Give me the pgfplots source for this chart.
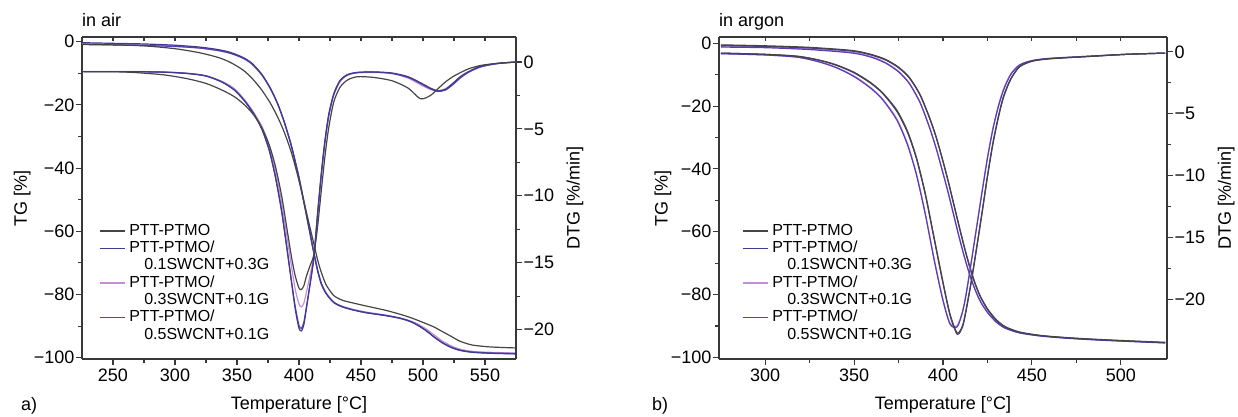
\documentclass[border=0pt]{standalone}
\usepackage{fontspec}
\setmainfont{Liberation Sans}
\usepackage{pgfplots}
\usepackage{pgfplotstable}
\pgfplotsset{compat=1.18}
\definecolor{cA}{HTML}{454545}
\definecolor{cB}{HTML}{3E3C8E}
\definecolor{cC}{HTML}{C48ED6}
\definecolor{cD}{HTML}{5B3CB6}
\definecolor{axc}{HTML}{383838}

% ---------- in air: TG ----------
\pgfplotstableread{
T a b p v
225 -0.8 -0.3 -0.6 -0.9
250 -1.0 -0.5 -0.8 -1.0
275 -1.3 -0.7 -1.0 -1.2
300 -2.2 -1.1 -1.4 -1.5
320 -3.5 -1.7 -2.0 -2.0
335 -5.0 -2.5 -2.8 -2.8
345 -6.6 -3.4 -3.7 -3.7
355 -9.0 -5.0 -5.3 -5.2
362 -11.5 -6.8 -7.1 -7.0
370 -15.3 -10.3 -10.6 -10.4
377 -19.5 -14.8 -15.0 -14.8
383 -24.0 -19.8 -20.0 -19.8
388 -28.5 -25.3 -25.4 -25.2
393 -34.0 -31.8 -31.8 -31.6
396 -38.0 -36.5 -36.3 -36.2
400 -44.0 -43.2 -42.8 -43.0
403 -49.0 -49.0 -48.4 -48.8
406 -54.0 -55.0 -54.3 -54.8
409 -59.0 -61.0 -60.3 -60.8
412 -64.0 -67.0 -66.4 -66.8
415 -69.0 -72.5 -72.0 -72.3
418 -73.0 -76.7 -76.3 -76.5
422 -77.0 -79.8 -79.5 -79.7
428 -80.3 -82.5 -82.3 -82.5
435 -81.8 -83.9 -83.7 -83.9
445 -82.8 -85.0 -84.8 -85.0
455 -83.7 -85.8 -85.6 -85.8
470 -85.0 -86.7 -86.5 -86.6
482 -86.3 -87.6 -87.5 -87.5
490 -87.3 -88.6 -88.4 -88.5
496 -88.2 -89.8 -89.4 -89.7
503 -89.3 -91.6 -91.0 -91.5
509 -90.3 -93.5 -92.8 -93.4
516 -91.8 -95.4 -94.8 -95.3
523 -93.3 -96.8 -96.3 -96.7
530 -94.8 -97.7 -97.3 -97.6
540 -96.0 -98.3 -98.0 -98.2
555 -96.6 -98.6 -98.3 -98.5
575 -96.9 -98.8 -98.5 -98.7
}\airTG

% ---------- in air: DTG ----------
\pgfplotstableread{
T a b p v
225 -0.72 -0.72 -0.70 -0.72
260 -0.75 -0.72 -0.70 -0.72
290 -0.95 -0.76 -0.74 -0.75
310 -1.25 -0.86 -0.84 -0.85
325 -1.6 -1.05 -1.02 -1.04
338 -2.1 -1.5 -1.45 -1.5
348 -2.6 -2.1 -2.0 -2.1
356 -3.2 -2.9 -2.8 -2.9
363 -3.9 -3.8 -3.7 -3.8
370 -4.9 -5.0 -4.8 -5.0
376 -6.2 -6.6 -6.3 -6.6
381 -7.8 -8.6 -8.1 -8.6
386 -10.0 -11.2 -10.5 -11.1
390 -12.3 -13.8 -12.9 -13.7
394 -14.6 -16.5 -15.3 -16.4
397 -16.0 -18.5 -17.0 -18.3
400 -16.9 -19.9 -18.1 -19.7
402 -17.0 -20.1 -18.3 -19.9
404 -16.7 -19.6 -18.0 -19.4
406 -16.0 -18.4 -17.2 -18.3
409 -15.2 -16.6 -15.9 -16.5
412 -14.4 -14.6 -14.4 -14.6
415 -12.3 -11.3 -11.4 -11.4
418 -9.6 -8.3 -8.5 -8.4
421 -7.0 -5.8 -6.0 -5.9
424 -4.9 -3.9 -4.1 -4.0
428 -3.0 -2.4 -2.5 -2.4
433 -1.9 -1.4 -1.5 -1.4
439 -1.35 -0.95 -1.0 -0.95
447 -1.1 -0.78 -0.82 -0.78
460 -1.15 -0.74 -0.78 -0.75
475 -1.4 -0.82 -0.86 -0.85
488 -1.95 -1.1 -1.2 -1.15
498 -2.75 -1.55 -1.7 -1.6
506 -2.5 -1.95 -2.05 -2.0
512 -2.0 -2.15 -2.15 -2.2
518 -1.5 -2.05 -2.0 -2.1
524 -1.1 -1.6 -1.6 -1.7
530 -0.8 -1.1 -1.15 -1.2
537 -0.5 -0.7 -0.75 -0.75
547 -0.25 -0.3 -0.35 -0.35
560 -0.1 -0.1 -0.12 -0.12
575 0 0 0 0
}\airDTG

% ---------- in argon: TG ----------
\pgfplotstableread{
T a b p v
275 -0.5 -0.7 -1.0 -1.2
300 -0.8 -1.0 -1.2 -1.4
325 -1.3 -1.5 -1.8 -2.0
349 -2.3 -2.5 -2.9 -3.1
360 -3.6 -3.8 -4.3 -4.5
368 -5.2 -5.4 -6.2 -6.4
375 -7.6 -7.8 -8.9 -9.1
381 -10.8 -11.0 -12.6 -12.8
387 -16.2 -16.4 -18.6 -18.8
392 -23.0 -23.2 -26.0 -26.2
396 -29.5 -29.7 -33.0 -33.2
400 -37.5 -37.7 -41.2 -41.4
403 -44.0 -44.2 -47.6 -47.8
406 -51.0 -51.2 -54.5 -54.7
409 -58.0 -58.2 -61.4 -61.6
412 -64.8 -65.0 -67.8 -68.0
415 -71.0 -71.2 -73.5 -73.7
418 -76.3 -76.5 -78.2 -78.4
421 -80.5 -80.7 -82.0 -82.2
425 -84.5 -84.7 -85.5 -85.7
430 -88.0 -88.2 -88.6 -88.8
435 -90.2 -90.3 -90.6 -90.7
443 -91.9 -92.0 -92.1 -92.2
455 -93.0 -93.1 -93.1 -93.2
470 -93.7 -93.8 -93.8 -93.9
485 -94.2 -94.3 -94.3 -94.4
500 -94.6 -94.7 -94.7 -94.8
525 -95.2 -95.3 -95.3 -95.4
}\arTG

% ---------- in argon: DTG ----------
\pgfplotstableread{
T a b p v
275 -0.1 -0.1 -0.15 -0.15
300 -0.2 -0.2 -0.25 -0.25
318 -0.35 -0.36 -0.42 -0.43
330 -0.65 -0.67 -0.78 -0.8
340 -1.05 -1.08 -1.25 -1.28
350 -1.65 -1.7 -1.95 -2.0
359 -2.45 -2.5 -2.85 -2.9
366 -3.3 -3.35 -3.8 -3.85
374 -4.7 -4.8 -5.4 -5.5
380 -6.4 -6.5 -7.4 -7.5
385 -8.5 -8.6 -9.8 -9.9
390 -11.4 -11.5 -13.0 -13.1
395 -15.0 -15.1 -16.7 -16.8
400 -18.6 -18.7 -20.0 -20.1
404 -21.2 -21.3 -21.9 -22.0
408 -22.7 -22.8 -22.1 -22.2
411 -22.1 -22.2 -20.9 -21.0
413 -20.8 -20.9 -19.5 -19.6
416 -18.4 -18.5 -16.8 -16.9
419 -15.7 -15.8 -14.0 -14.1
422 -12.9 -13.0 -11.2 -11.3
425 -10.0 -10.1 -8.5 -8.6
428 -7.4 -7.5 -6.2 -6.3
431 -5.3 -5.4 -4.4 -4.5
434 -3.6 -3.7 -3.0 -3.1
438 -2.2 -2.25 -1.8 -1.85
443 -1.2 -1.22 -1.05 -1.07
450 -0.75 -0.76 -0.7 -0.71
460 -0.55 -0.56 -0.52 -0.53
481 -0.38 -0.38 -0.36 -0.36
503 -0.2 -0.2 -0.2 -0.2
525 -0.1 -0.1 -0.1 -0.1
}\arDTG

\pgfplotsset{
  base/.style={
    scale only axis, height=322pt,
    tick label style={font=\fontsize{18}{20}\selectfont},
    label style={font=\fontsize{18}{20}\selectfont},
    axis line style={line width=1.5pt, draw=axc},
    tick style={line width=1.1pt, draw=axc},
    major tick length=6pt, minor tick length=4pt,
    /pgf/number format/assume math mode=true,
    /pgf/number format/1000 sep={},
    yticklabel style={inner sep=1.5pt},
  },
  curve/.style={line width=1.2pt, smooth, tension=0.45, mark=none, forget plot},
  leg/.style={
    legend style={at={(axis description cs:#1,0.424)}, anchor=north west,
      draw=none, fill=none, inner sep=0pt, outer sep=0pt,
      font=\fontsize{16}{17}\selectfont, row sep=0pt, column sep=3pt,
      nodes={inner sep=1pt, text height=11.8pt, text depth=3.5pt}},
    legend cell align=left,
    legend image code/.code={\draw[##1, line width=1.4pt] (0pt,0pt) -- (25pt,0pt);},
  },
}

\begin{document}
\begin{tikzpicture}
\path[use as bounding box] (0pt,0pt) rectangle (1238pt,416pt);

% ================= a) in air =================
\begin{axis}[base, at={(82pt,57pt)}, anchor=south west, width=434pt,
  xmin=225, xmax=575, ymin=-100.4, ymax=1.5,
  axis x line*=bottom, axis y line*=left, tick align=outside,
  xtick={250,300,350,400,450,500,550}, minor x tick num=1,
  ytick={0,-20,-40,-60,-80,-100}, yticklabels={0,−20,−40,−60,−80,−100},
  minor y tick num=1,
  xlabel={Temperature [°C]}, ylabel={TG [\%]},
  xlabel style={at={(axis description cs:0.5,0)}, anchor=base, yshift=-50pt},
  ylabel style={at={(axis description cs:-0.138,0.5)}, anchor=center},
  leg=0.039]
\addlegendimage{cA}\addlegendentry{PTT-PTMO}
\addlegendimage{cB}\addlegendentry{PTT-PTMO/}
\addlegendimage{empty legend}\addlegendentry{\hspace*{15pt}0.1SWCNT+0.3G}
\addlegendimage{cC}\addlegendentry{PTT-PTMO/}
\addlegendimage{empty legend}\addlegendentry{\hspace*{15pt}0.3SWCNT+0.1G}
\addlegendimage{cD}\addlegendentry{PTT-PTMO/}
\addlegendimage{empty legend}\addlegendentry{\hspace*{15pt}0.5SWCNT+0.1G}
\addplot[cC, curve] table[x=T, y=p] {\airTG};
\addplot[cD, curve] table[x=T, y=v] {\airTG};
\addplot[cB, curve] table[x=T, y=b] {\airTG};
\addplot[cA, curve] table[x=T, y=a] {\airTG};
\end{axis}
\begin{axis}[base, at={(82pt,57pt)}, anchor=south west, width=434pt,
  xmin=225, xmax=575, ymin=-22.2, ymax=1.87,
  axis y line*=right, axis x line=none, tick align=outside,
  ytick={0,-5,-10,-15,-20}, yticklabels={0,−5,−10,−15,−20},
  minor y tick num=1,
  ylabel={DTG [\%/min]},
  ylabel style={at={(axis description cs:1.136,0.5)}, anchor=center}]
\addplot[cC, curve] table[x=T, y=p] {\airDTG};
\addplot[cD, curve] table[x=T, y=v] {\airDTG};
\addplot[cB, curve] table[x=T, y=b] {\airDTG};
\addplot[cA, curve] table[x=T, y=a] {\airDTG};
\end{axis}
\begin{axis}[base, at={(82pt,57pt)}, anchor=south west, width=434pt,
  xmin=225, xmax=575, ymin=0, ymax=1,
  axis x line*=top, axis y line=none, tick align=inside,
  major tick length=4pt,
  xtick={250,300,350,400,450,500,550}, minor x tick num=1, xticklabels={}]
\end{axis}

% ================= b) in argon =================
\begin{axis}[base, at={(719pt,57pt)}, anchor=south west, width=448pt,
  xmin=274, xmax=526, ymin=-100.5, ymax=2.0,
  axis x line*=bottom, axis y line*=left, tick align=outside,
  xtick={300,350,400,450,500}, minor x tick num=1,
  ytick={0,-20,-40,-60,-80,-100}, yticklabels={0,−20,−40,−60,−80,−100},
  minor y tick num=1,
  xlabel={Temperature [°C]}, ylabel={TG [\%]},
  xlabel style={at={(axis description cs:0.5,0)}, anchor=base, yshift=-50pt},
  ylabel style={at={(axis description cs:-0.125,0.5)}, anchor=center},
  leg=0.051]
\addlegendimage{cA}\addlegendentry{PTT-PTMO}
\addlegendimage{cB}\addlegendentry{PTT-PTMO/}
\addlegendimage{empty legend}\addlegendentry{\hspace*{15pt}0.1SWCNT+0.3G}
\addlegendimage{cC}\addlegendentry{PTT-PTMO/}
\addlegendimage{empty legend}\addlegendentry{\hspace*{15pt}0.3SWCNT+0.1G}
\addlegendimage{cD}\addlegendentry{PTT-PTMO/}
\addlegendimage{empty legend}\addlegendentry{\hspace*{15pt}0.5SWCNT+0.1G}
\addplot[cC, curve] table[x=T, y=p] {\arTG};
\addplot[cD, curve] table[x=T, y=v] {\arTG};
\addplot[cB, curve] table[x=T, y=b] {\arTG};
\addplot[cA, curve] table[x=T, y=a] {\arTG};
\end{axis}
\begin{axis}[base, at={(719pt,57pt)}, anchor=south west, width=448pt,
  xmin=274, xmax=526, ymin=-24.8, ymax=1.2,
  axis y line*=right, axis x line=none, tick align=outside,
  ytick={0,-5,-10,-15,-20}, yticklabels={0,−5,−10,−15,−20},
  minor y tick num=1,
  ylabel={DTG [\%/min]},
  ylabel style={at={(axis description cs:1.132,0.5)}, anchor=center}]
\addplot[cC, curve] table[x=T, y=p] {\arDTG};
\addplot[cD, curve] table[x=T, y=v] {\arDTG};
\addplot[cB, curve] table[x=T, y=b] {\arDTG};
\addplot[cA, curve] table[x=T, y=a] {\arDTG};
\end{axis}
\begin{axis}[base, at={(719pt,57pt)}, anchor=south west, width=448pt,
  xmin=274, xmax=526, ymin=0, ymax=1,
  axis x line*=top, axis y line=none, tick align=inside,
  major tick length=4pt,
  xtick={300,350,400,450,500}, minor x tick num=1, xticklabels={}]
\end{axis}

\node[anchor=base west, font=\fontsize{18}{20}\selectfont, inner sep=0pt] at (82pt,389pt) {in air};
\node[anchor=base west, font=\fontsize{18}{20}\selectfont, inner sep=0pt] at (719pt,389pt) {in argon};
\node[anchor=base west, font=\fontsize{18}{20}\selectfont, inner sep=0pt] at (21pt,6pt) {a)};
\node[anchor=base west, font=\fontsize{18}{20}\selectfont, inner sep=0pt] at (652pt,6pt) {b)};
\end{tikzpicture}
\end{document}
